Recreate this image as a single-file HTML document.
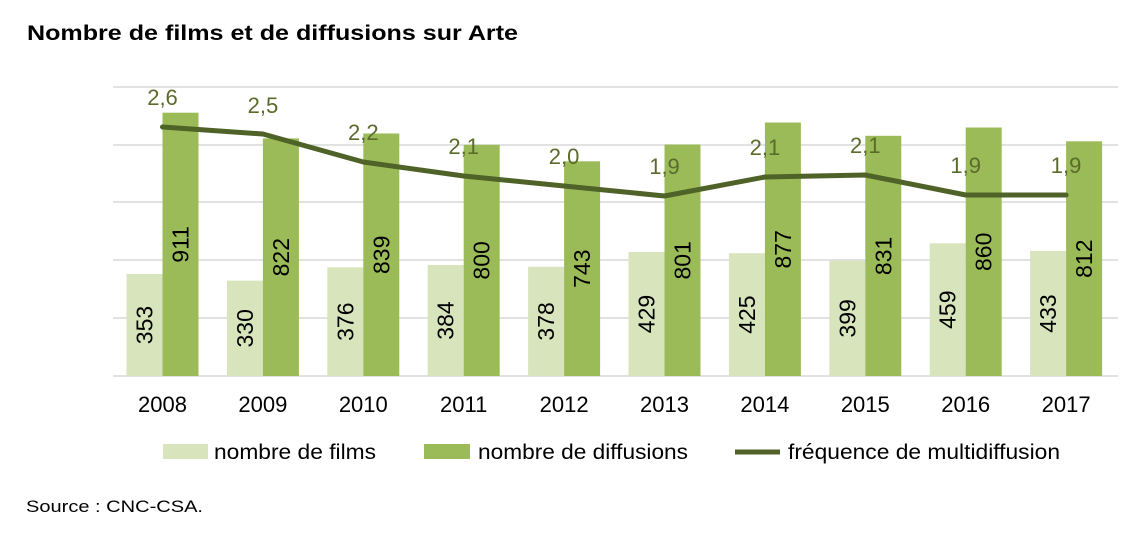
<!DOCTYPE html><html><head><meta charset="utf-8"><style>body{margin:0;background:#fff;width:1137px;height:533px;overflow:hidden}</style></head><body>
<svg width="1137" height="533" xmlns="http://www.w3.org/2000/svg" font-family="Liberation Sans, Arial, sans-serif">
<text x="27" y="40" font-size="21" font-weight="bold" fill="#000" textLength="491" lengthAdjust="spacingAndGlyphs">Nombre de films et de diffusions sur Arte</text>
<g stroke="#d9d9d9" stroke-width="1.5">
<line x1="113" x2="1118" y1="87" y2="87"/><line x1="113" x2="1118" y1="145" y2="145"/><line x1="113" x2="1118" y1="202" y2="202"/><line x1="113" x2="1118" y1="260" y2="260"/><line x1="113" x2="1118" y1="318" y2="318"/><line x1="113" x2="1118" y1="376" y2="376"/></g>
<g fill="#d8e4bc">
<rect x="126.5" y="274" width="36" height="102"/>
<rect x="226.9" y="280.6" width="36" height="95.4"/>
<rect x="327.3" y="267.3" width="36" height="108.7"/>
<rect x="427.7" y="265" width="36" height="111"/>
<rect x="528.1" y="266.8" width="36" height="109.2"/>
<rect x="628.5" y="252" width="36" height="124"/>
<rect x="728.9" y="253.2" width="36" height="122.8"/>
<rect x="829.3" y="260.7" width="36" height="115.3"/>
<rect x="929.7" y="243.3" width="36" height="132.7"/>
<rect x="1030.1" y="250.9" width="36" height="125.1"/>
</g>
<g fill="#9bbb59">
<rect x="162.5" y="112.7" width="36" height="263.3"/>
<rect x="262.9" y="138.4" width="36" height="237.6"/>
<rect x="363.3" y="133.5" width="36" height="242.5"/>
<rect x="463.7" y="144.8" width="36" height="231.2"/>
<rect x="564.1" y="161.3" width="36" height="214.7"/>
<rect x="664.5" y="144.5" width="36" height="231.5"/>
<rect x="764.9" y="122.5" width="36" height="253.5"/>
<rect x="865.3" y="135.8" width="36" height="240.2"/>
<rect x="965.7" y="127.5" width="36" height="248.5"/>
<rect x="1066.1" y="141.3" width="36" height="234.7"/>
</g>
<g font-size="23" fill="#000" text-anchor="middle">
<text transform="translate(152.5,325) rotate(-90)">353</text>
<text transform="translate(252.9,328.3) rotate(-90)">330</text>
<text transform="translate(353.3,321.7) rotate(-90)">376</text>
<text transform="translate(453.7,320.5) rotate(-90)">384</text>
<text transform="translate(554.1,321.4) rotate(-90)">378</text>
<text transform="translate(654.5,314) rotate(-90)">429</text>
<text transform="translate(754.9,314.6) rotate(-90)">425</text>
<text transform="translate(855.3,318.4) rotate(-90)">399</text>
<text transform="translate(955.7,309.7) rotate(-90)">459</text>
<text transform="translate(1056.1,313.5) rotate(-90)">433</text>
<text transform="translate(188.5,244.4) rotate(-90)">911</text>
<text transform="translate(288.9,257.2) rotate(-90)">822</text>
<text transform="translate(389.3,254.8) rotate(-90)">839</text>
<text transform="translate(489.7,260.4) rotate(-90)">800</text>
<text transform="translate(590.1,268.7) rotate(-90)">743</text>
<text transform="translate(690.5,260.3) rotate(-90)">801</text>
<text transform="translate(790.9,249.3) rotate(-90)">877</text>
<text transform="translate(891.3,255.9) rotate(-90)">831</text>
<text transform="translate(991.7,251.8) rotate(-90)">860</text>
<text transform="translate(1092.1,258.7) rotate(-90)">812</text>
</g>
<g font-size="22" fill="#000" text-anchor="middle">
<text x="162.5" y="412">2008</text><text x="262.9" y="412">2009</text><text x="363.3" y="412">2010</text><text x="463.7" y="412">2011</text><text x="564.1" y="412">2012</text><text x="664.5" y="412">2013</text><text x="764.9" y="412">2014</text><text x="865.3" y="412">2015</text><text x="965.7" y="412">2016</text><text x="1066.1" y="412">2017</text>
</g>
<polyline points="162.5,127 262.9,134 363.3,162 463.7,176 564.1,186 664.5,196 764.9,177 865.3,175 965.7,195 1066.1,195" fill="none" stroke="#4f6228" stroke-width="5" stroke-linejoin="round" stroke-linecap="round"/>
<g font-size="22" fill="#5a6b2a" text-anchor="middle">
<text x="162.5" y="105">2,6</text><text x="262.9" y="113">2,5</text><text x="363.3" y="140">2,2</text><text x="463.7" y="154">2,1</text><text x="564.1" y="164">2,0</text><text x="664.5" y="174">1,9</text><text x="764.9" y="155">2,1</text><text x="865.3" y="153">2,1</text><text x="965.7" y="173">1,9</text><text x="1066.1" y="173">1,9</text>
</g>
<rect x="163" y="444" width="45" height="15" fill="#d8e4bc"/><text x="214" y="459" font-size="21" textLength="162" lengthAdjust="spacingAndGlyphs">nombre de films</text>
<rect x="424" y="444" width="46" height="15" fill="#9bbb59"/><text x="478" y="459" font-size="21" textLength="210" lengthAdjust="spacingAndGlyphs">nombre de diffusions</text>
<line x1="735" x2="780" y1="452" y2="452" stroke="#4f6228" stroke-width="5"/><text x="788" y="459" font-size="21" textLength="272" lengthAdjust="spacingAndGlyphs">fréquence de multidiffusion</text>
<text x="26" y="512" font-size="17" textLength="177" lengthAdjust="spacingAndGlyphs">Source : CNC-CSA.</text>
</svg></body></html>
